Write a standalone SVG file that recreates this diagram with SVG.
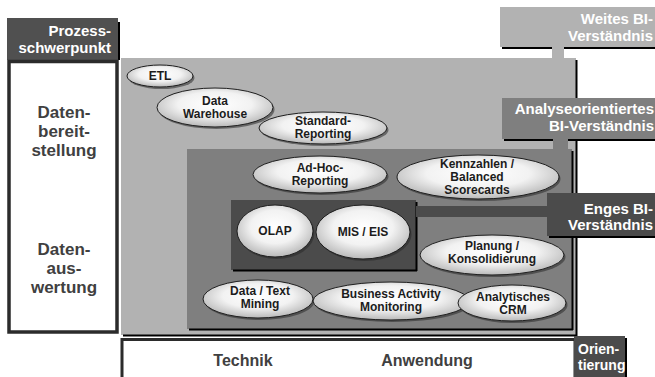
<svg xmlns="http://www.w3.org/2000/svg" width="655" height="377" viewBox="0 0 655 377">
  <defs>
    <radialGradient id="ellFill" cx="50%" cy="42%" r="58%">
      <stop offset="0" stop-color="#ffffff"/>
      <stop offset="0.55" stop-color="#f2f2f2"/>
      <stop offset="1" stop-color="#b9b9b9"/>
    </radialGradient>
    <style>
      .node ellipse.face { fill: url(#ellFill); stroke: #1e1e1e; stroke-width: 1; }
      .node ellipse.shade { fill: #2a2a2a; opacity: 0.55; }
      .node text { font-family: "Liberation Sans", Arial, sans-serif; font-weight: bold; font-size: 12px; fill: #1c1c1c; text-anchor: middle; }
      .head { font-family: "Liberation Sans", Arial, sans-serif; font-weight: bold; font-size: 15px; fill: #ffffff; }
      .big { font-family: "Liberation Sans", Arial, sans-serif; font-weight: bold; font-size: 17px; fill: #404040; text-anchor: middle; }
      .axis { font-family: "Liberation Sans", Arial, sans-serif; font-weight: bold; font-size: 16px; fill: #404040; text-anchor: middle; }
      .edge { stroke: #000000; stroke-width: 2; fill: none; }
    </style>
  </defs>

  <rect width="655" height="377" fill="#ffffff"/>

  <!-- nested areas -->
  <g id="area-weit">
    <rect x="121" y="58" width="455" height="277" fill="#b2b2b2"/>
    <path class="edge" d="M576.5 60 V336 M123 335.5 H577"/>
  </g>
  <g id="area-analyse">
    <rect x="187" y="149" width="385" height="180" fill="#7f7f7f"/>
    <path class="edge" d="M572.5 151 V330 M189 329.5 H573"/>
  </g>
  <g id="area-eng">
    <rect x="231" y="200" width="185" height="70" fill="#4b4b4b"/>
    <path class="edge" d="M416.5 202 V271 M233 270.5 H417"/>
  </g>

  <!-- left column -->
  <g id="prozessschwerpunkt">
    <rect x="7" y="18" width="111" height="42" fill="#505050"/>
    <path class="edge" d="M119 22 V60"/>
    <text class="head" text-anchor="end"><tspan x="111" y="36">Prozess-</tspan><tspan x="111" y="53">schwerpunkt</tspan></text>
  </g>
  <g id="datenbereich">
    <rect x="9" y="61.5" width="108" height="270.5" fill="#ffffff" stroke="#2b2b2b" stroke-width="3.5"/>
    <text class="big"><tspan x="64" y="118">Daten-</tspan><tspan x="64" y="137">bereit-</tspan><tspan x="64" y="156">stellung</tspan></text>
    <text class="big"><tspan x="64" y="255">Daten-</tspan><tspan x="64" y="274">aus-</tspan><tspan x="64" y="293">wertung</tspan></text>
  </g>

  <!-- bottom orientation bar -->
  <g id="orientierung-achse">
    <rect x="122" y="339.5" width="453" height="40" fill="#ffffff" stroke="#2b2b2b" stroke-width="3"/>
    <text class="axis" x="243" y="366">Technik</text>
    <text class="axis" x="427" y="366">Anwendung</text>
  </g>
  <g id="orientierung">
    <rect x="574" y="336" width="51" height="41" fill="#4b4b4b"/>
    <path class="edge" d="M626 338 V377"/>
    <text class="head" style="font-size:14px"><tspan x="578" y="354">Orien-</tspan><tspan x="578" y="370">tierung</tspan></text>
  </g>

  <!-- connectors between labels and areas -->
  <g id="connectors">
    <rect x="552" y="46" width="12" height="13" fill="#b2b2b2"/>
    <rect x="553" y="138" width="15" height="12" fill="#7f7f7f"/>
    <rect x="416" y="206" width="132" height="11" fill="#4b4b4b"/>
  </g>

  <!-- scope labels -->
  <g id="weites-bi">
    <rect x="500" y="7" width="155" height="40" fill="#b2b2b2"/>
    <path class="edge" d="M502 48 H552 M564 48 H655"/>
    <text class="head" text-anchor="end"><tspan x="653" y="24">Weites BI-</tspan><tspan x="653" y="41">Verständnis</tspan></text>
  </g>
  <g id="analyse-bi">
    <rect x="502" y="98" width="153" height="41" fill="#7f7f7f"/>
    <path class="edge" d="M504 140 H553 M568 140 H655"/>
    <text class="head" text-anchor="end"><tspan x="654" y="114">Analyseorientiertes</tspan><tspan x="654" y="131">BI-Verständnis</tspan></text>
  </g>
  <g id="enges-bi">
    <rect x="547" y="193" width="108" height="43" fill="#4b4b4b"/>
    <path class="edge" d="M549 237 H655"/>
    <text class="head" text-anchor="end"><tspan x="653" y="214">Enges BI-</tspan><tspan x="653" y="230">Verständnis</tspan></text>
  </g>

  <!-- application nodes -->
  <g id="etl" class="node">
    <ellipse class="shade" cx="161.5" cy="78" rx="33" ry="11"/>
    <ellipse class="face" cx="160" cy="76" rx="33" ry="11"/>
    <text x="160" y="80">ETL</text>
  </g>
  <g id="data-warehouse" class="node">
    <ellipse class="shade" cx="216.5" cy="109.5" rx="58" ry="19.5"/>
    <ellipse class="face" cx="215" cy="107.5" rx="58" ry="19.5"/>
    <text><tspan x="215" y="105">Data</tspan><tspan x="215" y="118">Warehouse</tspan></text>
  </g>
  <g id="standard-reporting" class="node">
    <ellipse class="shade" cx="324.5" cy="130" rx="64" ry="16"/>
    <ellipse class="face" cx="323" cy="128" rx="64" ry="16"/>
    <text><tspan x="323" y="125">Standard-</tspan><tspan x="323" y="138">Reporting</tspan></text>
  </g>
  <g id="ad-hoc-reporting" class="node">
    <ellipse class="shade" cx="321.5" cy="176.5" rx="67" ry="18.5"/>
    <ellipse class="face" cx="320" cy="174.5" rx="67" ry="18.5"/>
    <text><tspan x="320" y="172">Ad-Hoc-</tspan><tspan x="320" y="185">Reporting</tspan></text>
  </g>
  <g id="kennzahlen" class="node">
    <ellipse class="shade" cx="479.5" cy="179" rx="81" ry="22"/>
    <ellipse class="face" cx="478" cy="177" rx="81" ry="22"/>
    <text><tspan x="477" y="168">Kennzahlen /</tspan><tspan x="477" y="181">Balanced</tspan><tspan x="477" y="194">Scorecards</tspan></text>
  </g>
  <g id="olap" class="node">
    <ellipse class="shade" cx="276.5" cy="233" rx="38" ry="26"/>
    <ellipse class="face" cx="275" cy="231" rx="38" ry="26"/>
    <text x="275" y="235">OLAP</text>
  </g>
  <g id="mis-eis" class="node">
    <ellipse class="shade" cx="364.5" cy="234" rx="47" ry="27"/>
    <ellipse class="face" cx="363" cy="232" rx="47" ry="27"/>
    <text x="363" y="236">MIS / EIS</text>
  </g>
  <g id="planung" class="node">
    <ellipse class="shade" cx="493.5" cy="257" rx="72" ry="20"/>
    <ellipse class="face" cx="492" cy="255" rx="72" ry="20"/>
    <text><tspan x="492" y="250">Planung /</tspan><tspan x="492" y="263">Konsolidierung</tspan></text>
  </g>
  <g id="data-text-mining" class="node">
    <ellipse class="shade" cx="259.5" cy="301" rx="55" ry="19"/>
    <ellipse class="face" cx="258" cy="299" rx="55" ry="19"/>
    <text><tspan x="260" y="295">Data / Text</tspan><tspan x="260" y="308">Mining</tspan></text>
  </g>
  <g id="business-activity-monitoring" class="node">
    <ellipse class="shade" cx="392.5" cy="303" rx="78" ry="19"/>
    <ellipse class="face" cx="391" cy="301" rx="78" ry="19"/>
    <text><tspan x="391" y="298">Business Activity</tspan><tspan x="391" y="311">Monitoring</tspan></text>
  </g>
  <g id="analytisches-crm" class="node">
    <ellipse class="shade" cx="513.5" cy="305" rx="54" ry="18"/>
    <ellipse class="face" cx="512" cy="303" rx="54" ry="18"/>
    <text><tspan x="513" y="301">Analytisches</tspan><tspan x="513" y="314">CRM</tspan></text>
  </g>
</svg>
